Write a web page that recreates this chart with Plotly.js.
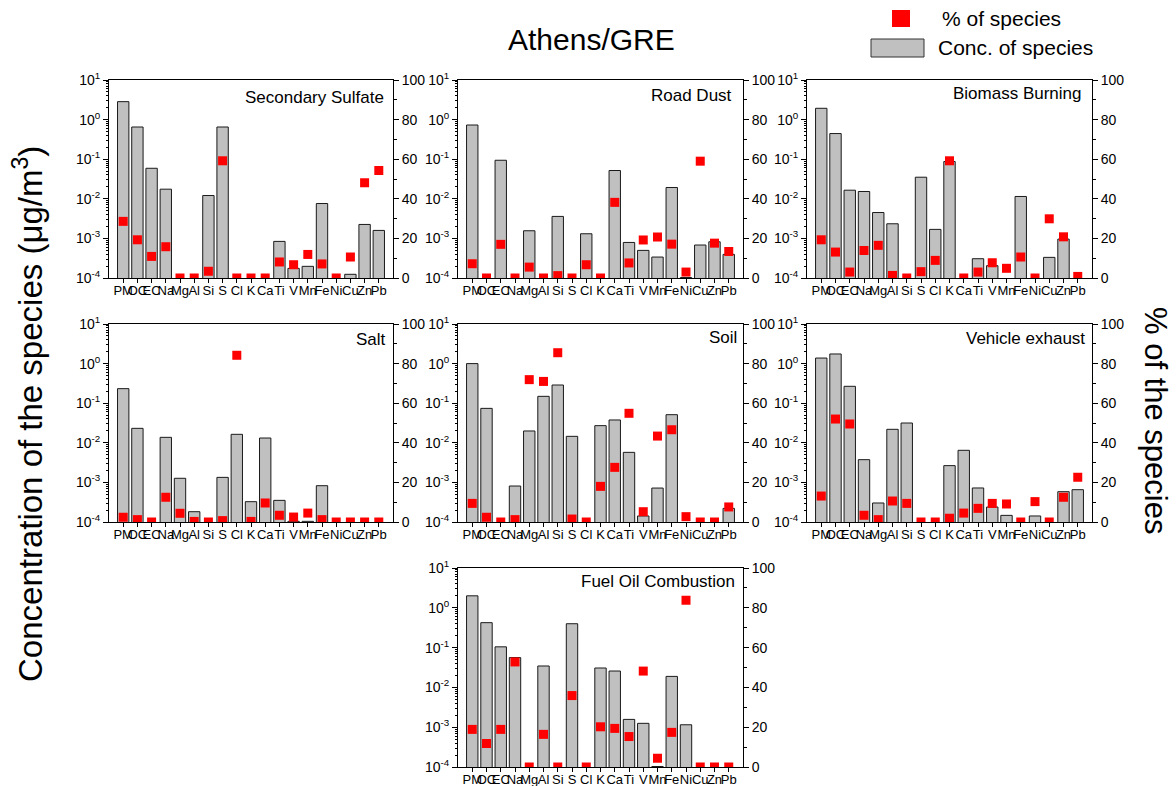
<!DOCTYPE html>
<html><head><meta charset="utf-8">
<script src="https://cdn.plot.ly/plotly-3.0.1.min.js"></script>
<style>html,body{margin:0;padding:0;background:#fff}#chart{width:1176px;height:786px}</style>
</head><body><div id="chart"></div>
<script>
const species = ['PM','OC','EC','Na','Mg','Al','Si','S','Cl','K','Ca','Ti','V','Mn','Fe','Ni','Cu','Zn','Pb'];
const sourceNames = ['Secondary Sulfate','Road Dust','Biomass Burning','Salt','Soil','Vehicle exhaust','Fuel Oil Combustion'];

const concSecondarySulfate = [2.84,0.65,0.059,0.0175,null,null,0.0121,0.65,null,null,null,8.4e-4,1.75e-4,1.97e-4,7.6e-3,null,1.24e-4,2.25e-3,1.59e-3];
const pctSecondarySulfate  = [28.6,19.3,10.9,15.8,0,0,3.4,59.2,0,0,0,8.1,6.7,11.9,7.1,0,10.6,48.1,54.3];

const concRoadDust = [0.73,null,0.094,null,1.56e-3,null,3.59e-3,null,1.31e-3,null,0.0518,7.9e-4,4.98e-4,3.38e-4,0.0193,1.03e-4,6.8e-4,8.2e-4,3.95e-4];
const pctRoadDust  = [7.2,0,17.0,0,5.5,0,1.2,0,6.7,0,38.2,7.6,19.2,20.7,17.1,3.0,59.0,17.6,13.4];

const concBiomass = [1.93,0.444,0.0165,0.0153,4.5e-3,2.34e-3,null,0.0351,1.69e-3,0.0873,null,3.07e-4,2.05e-4,null,0.01145,null,3.32e-4,9.6e-4,null];
const pctBiomass  = [19.3,13.1,3.0,13.9,16.5,1.3,0,3.2,8.9,59.2,0,3.0,7.7,4.9,10.6,0,29.9,20.8,0.8];

const concSalt = [0.233,0.0232,null,0.01374,1.27e-3,1.82e-4,null,1.34e-3,0.01637,3.26e-4,0.0132,3.52e-4,1.04e-4,1.04e-4,8.26e-4,null,null,null,null];
const pctSalt  = [2.4,1.2,0,12.5,4.4,0.3,0,0.7,84.2,0.3,9.6,3.4,2.5,4.5,1.2,0,0,0,0];

const concSoil = [1.0,0.0741,null,8.1e-4,0.0199,0.149,0.288,0.01456,null,0.0271,0.0377,5.74e-3,1.42e-4,7.2e-4,0.0513,null,null,null,2.21e-4];
const pctSoil  = [9.4,2.4,0,1.2,71.9,71.0,85.5,1.5,0,18.0,27.6,54.9,5.2,43.4,46.6,2.7,0,0,7.6];

const concVehicle = [1.38,1.75,0.267,3.75e-3,3.02e-4,0.0219,0.0316,null,null,2.65e-3,6.46e-3,7.23e-4,2.39e-4,1.47e-4,null,1.42e-4,null,5.83e-4,6.55e-4];
const pctVehicle  = [13.1,52.0,49.5,3.4,1.2,10.6,9.4,0,0,1.9,4.5,6.9,9.4,9.1,0,10.3,0,12.5,22.6];

const concFuelOil = [2.0,0.423,0.1045,0.0561,null,0.0345,null,0.398,null,0.0307,0.0258,1.57e-3,1.25e-3,1.03e-4,0.0189,1.15e-3,null,null,null];
const pctFuelOil  = [18.9,11.8,18.9,52.8,0,16.4,0,35.9,0,20.2,19.4,15.3,48.2,4.4,17.4,83.8,0,0,0];

const logTickVals = [1e-4,1e-3,1e-2,1e-1,1,10];
const logTickText = ['10<sup>-4</sup>','10<sup>-3</sup>','10<sup>-2</sup>','10<sup>-1</sup>','10<sup>0</sup>','10<sup>1</sup>'];
const pctTickVals = [0,20,40,60,80,100];

const concSeries = [concSecondarySulfate,concRoadDust,concBiomass,concSalt,concSoil,concVehicle,concFuelOil];
const pctSeries  = [pctSecondarySulfate,pctRoadDust,pctBiomass,pctSalt,pctSoil,pctVehicle,pctFuelOil];

// layout geometry (pixels): [left, right, top, bottom], label [rightX, centerY]
const W = 1176, H = 786;
const boxes = [
  [109,393,80,278],[458,743,80,278],[807,1092,80,278],
  [109,393,324,522],[458,743,324,522],[807,1092,324,522],
  [458,743,568,767]
];
const labelPos = [[386,98],[734,95],[1084,93],[388,339],[739,337],[1087,338],[737,581]];

const FONT = 'Liberation Sans, Arial, sans-serif';
const minorLog = [];
for (let e=-4;e<1;e++) for (let m=2;m<=9;m++) minorLog.push(m*Math.pow(10,e));

const data = [];
const layout = {
  width: W, height: H,
  margin: {l:0,r:0,t:0,b:0},
  paper_bgcolor:'#fff', plot_bgcolor:'#fff',
  showlegend:false,
  font:{family:FONT,color:'#000',size:14},
  annotations:[], shapes:[]
};

boxes.forEach((b,i)=>{
  const n = i+1;
  const xa = 'x'+(n===1?'':n);
  const yl = 2*n-1, yr = 2*n;
  const ylName = 'y'+(yl===1?'':yl), yrName = 'y'+yr;
  data.push({
    type:'bar', x:species, y:concSeries[i], xaxis:xa, yaxis:ylName,
    width:0.8, marker:{color:'#c0c0c0', line:{color:'#1a1a1a', width:1}},
    hoverinfo:'x+y'
  });
  data.push({
    type:'scatter', mode:'markers', x:species, y:pctSeries[i], xaxis:xa, yaxis:yrName,
    marker:{symbol:'square', size:9, color:'#ff0000'}, cliponaxis:true
  });
  const xdom = [b[0]/W, b[1]/W], ydom = [1-b[3]/H, 1-b[2]/H];
  layout['xaxis'+(n===1?'':n)] = {
    domain:xdom, anchor:ylName, type:'category', range:[-1,19],
    tickmode:'array', tickvals:species, ticktext:species, tickangle:0,
    ticks:'outside', ticklen:4, tickcolor:'#000', tickfont:{size:13,family:FONT},
    ticklabelstandoff:-4,
    showline:true, linecolor:'#000', linewidth:1, mirror:true, showgrid:false, zeroline:false,
    fixedrange:true
  };
  layout['yaxis'+(yl===1?'':yl)] = {
    domain:ydom, anchor:xa, type:'log', range:[-4,1],
    tickmode:'array', tickvals:logTickVals, ticktext:logTickText,
    ticks:'outside', ticklen:5, tickcolor:'#000', tickfont:{size:14,family:FONT},
    minor:{tickmode:'array', tickvals:minorLog, ticks:'outside', ticklen:2, tickcolor:'#000'},
    showline:true, linecolor:'#000', linewidth:1, showgrid:false, zeroline:false
  };
  layout['yaxis'+yr] = {
    domain:ydom, anchor:xa, overlaying:ylName, side:'right', range:[0,100],
    tickmode:'array', tickvals:pctTickVals,
    ticks:'outside', ticklen:5, tickcolor:'#000', tickfont:{size:14,family:FONT},
    minor:{dtick:10, ticks:'outside', ticklen:3, tickcolor:'#000'},
    showline:true, linecolor:'#000', linewidth:1, showgrid:false, zeroline:false
  };
  layout.annotations.push({
    xref:'paper', yref:'paper', x:labelPos[i][0]/W, y:1-labelPos[i][1]/H,
    xanchor:'right', yanchor:'middle', showarrow:false,
    text:sourceNames[i], font:{size:17,family:FONT,color:'#000'}
  });
});

// titles
layout.annotations.push({xref:'paper',yref:'paper',x:591/W,y:1-39/H,xanchor:'center',yanchor:'middle',
  showarrow:false,text:'Athens/GRE',font:{size:30,family:FONT,color:'#000'}});
layout.annotations.push({xref:'paper',yref:'paper',x:28/W,y:1-414/H,xanchor:'center',yanchor:'middle',
  showarrow:false,textangle:-90,text:'Concentration of the species (μg/m<sup>3</sup>)',font:{size:33,family:FONT,color:'#000'}});
layout.annotations.push({xref:'paper',yref:'paper',x:1156/W,y:1-420/H,xanchor:'center',yanchor:'middle',
  showarrow:false,textangle:90,text:'% of the species',font:{size:31,family:FONT,color:'#000'}});

// legend
layout.shapes.push({type:'rect',xref:'paper',yref:'paper',x0:892/W,x1:910/W,y0:1-27/H,y1:1-10/H,
  fillcolor:'#ff0000',line:{width:0}});
layout.shapes.push({type:'rect',xref:'paper',yref:'paper',x0:871/W,x1:924/W,y0:1-57/H,y1:1-39/H,
  fillcolor:'#c0c0c0',line:{color:'#333',width:1}});
layout.annotations.push({xref:'paper',yref:'paper',x:940/W,y:1-18/H,xanchor:'left',yanchor:'middle',
  showarrow:false,text:'% of species',font:{size:21,family:FONT,color:'#000'}});
layout.annotations.push({xref:'paper',yref:'paper',x:936/W,y:1-48/H,xanchor:'left',yanchor:'middle',
  showarrow:false,text:'Conc. of species',font:{size:21,family:FONT,color:'#000'}});

Plotly.newPlot('chart', data, layout, {displayModeBar:false, staticPlot:true});
</script>
</body></html>
